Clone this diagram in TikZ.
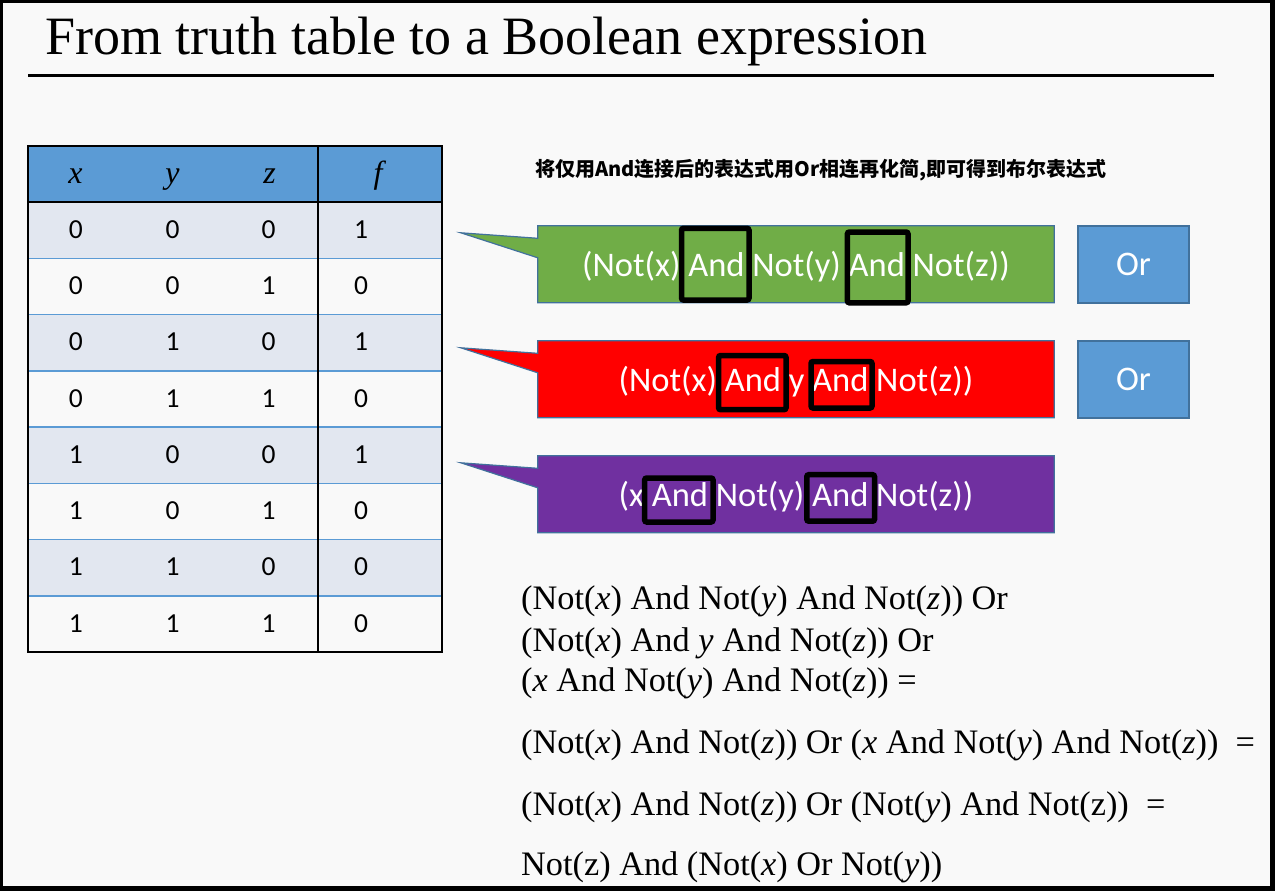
\documentclass[tikz,border=0pt]{standalone}
\usepackage{fontspec}
\setmainfont{Liberation Serif}
\newfontfamily\calib{Carlito}
\newfontfamily\cjk{Noto Sans CJK SC}
\usetikzlibrary{calc}

\definecolor{bg}{HTML}{F9F9F9}
\definecolor{hdr}{HTML}{5B9BD5}
\definecolor{rowband}{HTML}{E2E7F0}
\definecolor{edge}{HTML}{41719C}
\definecolor{cgreen}{HTML}{70AD47}
\definecolor{cred}{HTML}{FF0000}
\definecolor{cpurple}{HTML}{7030A0}

\tikzset{
  calloutbox/.style={minimum width=516pt, minimum height=76.5pt, inner sep=0pt, draw=none},
  calloutline/.style={draw=edge, line width=1.2pt},
  callouttext/.style={font=\calib\fontsize{34.5}{40}\selectfont, text=white, inner sep=0pt, anchor=base},
  andbox/.style={draw=black, line width=5.5pt, rounded corners=2pt},
  orbox/.style={fill=hdr, draw=edge, line width=1.2pt, minimum width=111pt, minimum height=77pt,
    inner sep=0pt, font=\calib\fontsize{34.5}{40}\selectfont, text=white},
  cell/.style={font=\calib\fontsize{27.5}{30}\selectfont, anchor=base, inner sep=0pt},
  head/.style={font=\fontsize{32}{36}\selectfont\itshape, anchor=base, inner sep=0pt},
  expr/.style={font=\fontsize{34.3}{40}\selectfont, anchor=base west, inner sep=0pt},
}

\begin{document}
\begin{tikzpicture}[x=1pt, y=-1pt]
\useasboundingbox (0,0) rectangle (1275,891);
% page frame
\fill[black] (0,0) rectangle (1275,891);
\fill[bg] (3,3.3) rectangle (1270.3,886);

% title and rule
\node[anchor=base west, inner sep=0pt, font=\fontsize{54}{60}\selectfont] (title) at (45,55)
  {From truth table to a Boolean expression};
\draw[line width=3pt] (28,76) -- (1214,76);

% truth table
\fill[hdr] (28,146) rectangle (442,202);
\foreach \i in {0,2,4,6}
  \fill[rowband] (28,{202+56.25*\i}) rectangle (442,{258.25+56.25*\i});
\foreach \i in {1,...,7}
  \draw[hdr, line width=1.5pt] (28,{202+56.25*\i}) -- (442,{202+56.25*\i});
\draw[line width=2pt] (28,202) -- (442,202);
\draw[line width=1.5pt] (318,146) -- (318,652);
\draw[line width=1.5pt] (28,146) rectangle (442,652);

\node[head] (hx) at (75.5,183) {x};
\node[head] (hy) at (172.5,183) {y};
\node[head] (hz) at (269.5,183) {z};
\node[head] (hf) at (378,183) {f};

\foreach \a/\b/\c/\d [count=\i from 0] in {0/0/0/1, 0/0/1/0, 0/1/0/1, 0/1/1/0, 1/0/0/1, 1/0/1/0, 1/1/0/0, 1/1/1/0} {
  \node[cell] (ca\i) at (75.8,{238.4+56.25*\i}) {\a};
  \node[cell] (cb\i) at (172.5,{238.4+56.25*\i}) {\b};
  \node[cell] (cc\i) at (268.5,{238.4+56.25*\i}) {\c};
  \node[cell] (cd\i) at (361,{238.4+56.25*\i}) {\d};
}

% heading of the right side
\node[anchor=base west, inner sep=0pt, font=\cjk\bfseries\fontsize{20}{24}\selectfont] (note) at (535,176)
  {将仅用And连接后的表达式用Or相连再化简,即可得到布尔表达式};

% callouts
\foreach \nm/\tp/\col in {g/226/cgreen, r/341/cred, p/456/cpurple} {
  \node[calloutbox] (\nm) at (796,{\tp+38.25}) {};
  \filldraw[calloutline, fill=\col] (\nm.north west) -- (\nm.north east) -- (\nm.south east)
    -- (\nm.south west) -- ([yshift=-32pt]\nm.north west)
    -- ([xshift=-77pt,yshift=-7pt]\nm.north west) -- ([yshift=-12.5pt]\nm.north west) -- cycle;
}
\node[callouttext] (gt) at ([yshift=-50.5pt]g.north) {(Not(x) And Not(y) And Not(z))};
\node[callouttext] (rt) at ([yshift=-50.5pt]r.north) {(Not(x) And y And Not(z))};
\node[callouttext] (pt) at ([yshift=-50.5pt]p.north) {(x And Not(y) And Not(z))};

% marks around the And operators
\draw[andbox] (681.5,228.3) rectangle (749,300);
\draw[andbox] (847.4,232) rectangle (908,302.8);
\draw[andbox] (718.6,355.5) rectangle (786,409.7);
\draw[andbox] (811,361.5) rectangle (872,408);
\draw[andbox] (644.7,478) rectangle (713,522);
\draw[andbox] (806.8,474.7) rectangle (874.5,521.2);

% Or operators
\node[orbox] (or1) at (1133.5,264.5) {Or};
\node[orbox] (or2) at (1133.5,379.5) {Or};

% derivation
\node[expr] (e1) at (521,609.3) {(Not(\textit{x}) And Not(\textit{y}) And Not(\textit{z})) Or};
\node[expr] (e2) at (521,651) {(Not(\textit{x}) And \textit{y} And Not(\textit{z})) Or};
\node[expr] (e3) at (521,691.7) {(\textit{x} And Not(\textit{y}) And Not(\textit{z})) =};
\node[expr] (e4) at (521,753.3) {(Not(\textit{x}) And Not(\textit{z})) Or (\textit{x} And Not(\textit{y}) And Not(\textit{z}))~~=};
\node[expr] (e5) at (521,815) {(Not(\textit{x}) And Not(\textit{z})) Or (Not(\textit{y}) And Not(z))~~=};
\node[expr] (e6) at (521,875) {Not(z) And (Not(\textit{x}) Or Not(\textit{y}))};
\end{tikzpicture}
\end{document}
